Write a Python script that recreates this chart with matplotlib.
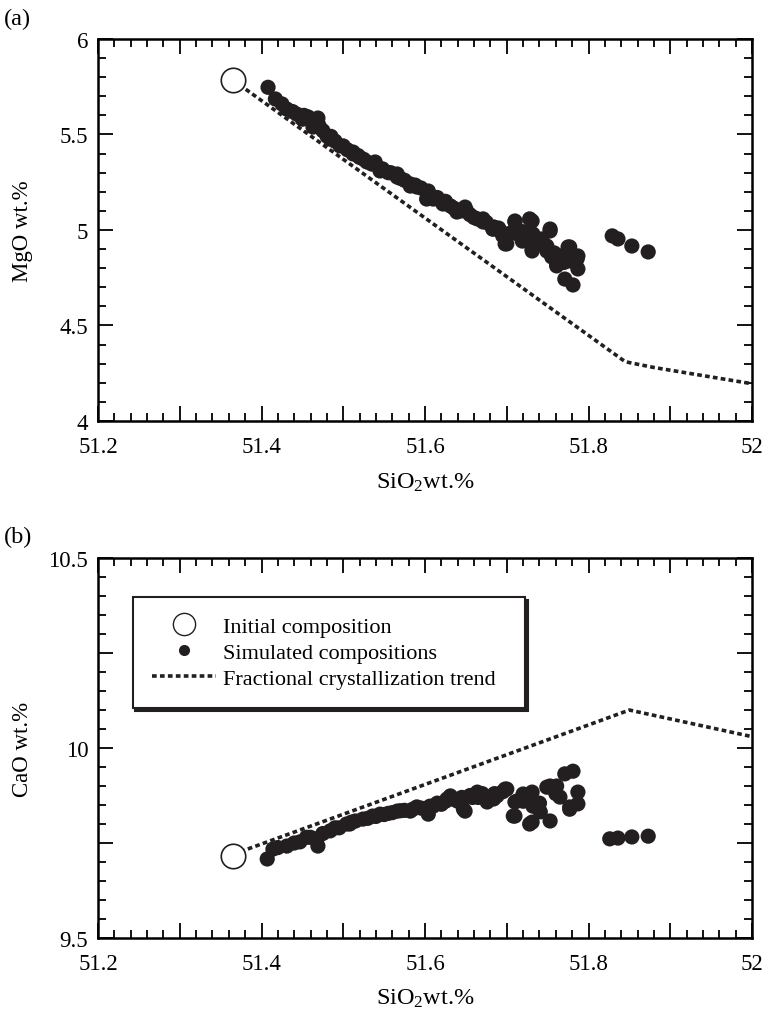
import matplotlib
matplotlib.use("Agg")
import matplotlib.pyplot as plt
from matplotlib.lines import Line2D
from matplotlib.ticker import MultipleLocator, FuncFormatter

plt.rcParams['font.family'] = ['Liberation Serif', 'DejaVu Serif']
plt.rcParams['mathtext.fontset'] = 'custom'
plt.rcParams['mathtext.rm'] = 'Liberation Serif'
plt.rcParams['mathtext.it'] = 'Liberation Serif:italic'

# initial composition
init_sio2 = 51.365
init_mgo = 5.785
init_cao = 9.716

# fractional crystallization trend
fc_sio2 = [51.365, 51.845, 51.88, 52.0]
fc_mgo = [5.785, 4.31, 4.28, 4.195]
fc_sio2_b = [51.365, 51.85, 52.0]
fc_cao = [9.72, 10.10, 10.03]

# simulated compositions (a)
sim_a_sio2 = [51.408, 51.417, 51.431, 51.443, 51.457, 51.469, 51.463, 51.480, 51.496, 51.512,
              51.529, 51.545, 51.566, 51.582, 51.602, 51.610, 51.631, 51.651, 51.671, 51.683,
              51.484, 51.512, 51.539, 51.566, 51.582, 51.604, 51.602, 51.622, 51.639, 51.649,
              51.664, 51.671, 51.683, 51.698, 51.710, 51.728, 51.719, 51.732, 51.753, 51.731,
              51.749, 51.765, 51.777, 51.761, 51.786, 51.671, 51.684, 51.692, 51.700, 51.710,
              51.713, 51.720, 51.719, 51.731, 51.732, 51.731, 51.743, 51.753, 51.749, 51.755,
              51.761, 51.765, 51.775, 51.777, 51.787, 51.787, 51.771, 51.781, 51.829, 51.836,
              51.853, 51.873, 51.425, 51.450, 51.475, 51.490, 51.520, 51.555, 51.590, 51.620,
              51.438, 51.452, 51.470, 51.485, 51.500, 51.505, 51.518, 51.525, 51.535, 51.548,
              51.558, 51.570, 51.575, 51.588, 51.595, 51.615, 51.625, 51.635, 51.645, 51.655,
              51.660, 51.675, 51.690, 51.695, 51.705, 51.740, 51.758, 51.770]
sim_a_mgo = [5.747, 5.686, 5.633, 5.607, 5.592, 5.586, 5.539, 5.492, 5.440, 5.398,
             5.356, 5.309, 5.277, 5.230, 5.199, 5.162, 5.126, 5.099, 5.047, 5.005,
             5.476, 5.408, 5.356, 5.293, 5.241, 5.204, 5.162, 5.136, 5.094, 5.120,
             5.058, 5.042, 5.005, 4.927, 5.047, 5.058, 4.990, 4.969, 5.005, 4.890,
             4.916, 4.864, 4.911, 4.822, 4.848, 5.058, 5.016, 4.995, 4.927, 5.042,
             4.979, 4.990, 4.942, 5.047, 4.979, 4.901, 4.953, 4.995, 4.890, 4.859,
             4.812, 4.859, 4.911, 4.838, 4.864, 4.796, 4.743, 4.712, 4.969, 4.953,
             4.916, 4.885, 5.660, 5.580, 5.520, 5.465, 5.380, 5.300, 5.225, 5.150,
             5.620, 5.600, 5.550, 5.490, 5.440, 5.420, 5.390, 5.370, 5.345, 5.320,
             5.300, 5.270, 5.260, 5.235, 5.220, 5.170, 5.150, 5.115, 5.100, 5.080,
             5.065, 5.040, 5.010, 4.970, 4.985, 4.930, 4.880, 4.830]

# simulated compositions (b)
sim_b_sio2 = [51.407, 51.414, 51.431, 51.447, 51.469, 51.468, 51.484, 51.504, 51.524, 51.545,
              51.566, 51.585, 51.604, 51.610, 51.631, 51.649, 51.664, 51.680, 51.508, 51.536,
              51.582, 51.606, 51.627, 51.647, 51.676, 51.688, 51.700, 51.710, 51.710, 51.720,
              51.731, 51.732, 51.741, 51.753, 51.753, 51.765, 51.777, 51.671, 51.684, 51.698,
              51.708, 51.713, 51.728, 51.731, 51.749, 51.761, 51.771, 51.781, 51.777, 51.787,
              51.787, 51.826, 51.836, 51.853, 51.873, 51.420, 51.455, 51.490, 51.515, 51.555,
              51.575, 51.595, 51.620, 51.640, 51.658, 51.440, 51.460, 51.475, 51.495, 51.510,
              51.530, 51.540, 51.550, 51.560, 51.570, 51.590, 51.600, 51.615, 51.625, 51.635,
              51.645, 51.655, 51.665, 51.670, 51.685, 51.695, 51.720, 51.740, 51.760]
sim_b_cao = [9.708, 9.734, 9.742, 9.753, 9.742, 9.761, 9.782, 9.800, 9.813, 9.826,
             9.834, 9.839, 9.826, 9.847, 9.874, 9.834, 9.884, 9.866, 9.800, 9.821,
             9.834, 9.847, 9.866, 9.839, 9.858, 9.874, 9.892, 9.858, 9.821, 9.879,
             9.805, 9.847, 9.832, 9.808, 9.900, 9.871, 9.839, 9.871, 9.866, 9.892,
             9.821, 9.861, 9.800, 9.884, 9.897, 9.900, 9.932, 9.939, 9.845, 9.884,
             9.853, 9.761, 9.763, 9.766, 9.768, 9.738, 9.765, 9.790, 9.808, 9.828,
             9.836, 9.842, 9.852, 9.860, 9.870, 9.750, 9.765, 9.775, 9.790, 9.805,
             9.815, 9.820, 9.825, 9.830, 9.835, 9.845, 9.840, 9.855, 9.860, 9.865,
             9.870, 9.875, 9.870, 9.880, 9.880, 9.885, 9.860, 9.855, 9.880]

FS = 16.5
fc_style = dict(color='#231f20', lw=2.6, linestyle=(0, (1.3, 0.9)), zorder=2)
dot_style = dict(s=120, color='#231f20', edgecolors='none', zorder=3)
init_style = dict(s=310, facecolors='white', edgecolors='#231f20', linewidths=1.2, zorder=4)


def style_axes(ax, ymaj, ymin, ylo, yhi):
    ax.set_xlim(51.2, 52.0)
    ax.set_ylim(ylo, yhi)
    ax.xaxis.set_major_locator(MultipleLocator(0.1))
    ax.xaxis.set_minor_locator(MultipleLocator(0.02))
    ax.xaxis.set_major_formatter(FuncFormatter(
        lambda v, p: ('%g' % round(v, 1)) if abs(round(v * 5) - v * 5) < 1e-6 else ''))
    ax.yaxis.set_major_locator(MultipleLocator(ymaj))
    ax.yaxis.set_minor_locator(MultipleLocator(ymin))
    ax.yaxis.set_major_formatter(FuncFormatter(
        lambda v, p: ('%g' % v) if abs(round(v * 2) - v * 2) < 1e-6 else ''))
    ax.tick_params(which='both', direction='in', top=True, right=True, labelsize=FS, width=1.3)
    ax.tick_params(which='major', length=11, pad=7)
    ax.tick_params(axis='x', which='major', pad=11)
    ax.tick_params(which='minor', length=6)
    for s in ax.spines.values():
        s.set_linewidth(1.8)


fig = plt.figure(figsize=(7.68, 10.2), dpi=100)

ax1 = fig.add_axes([0.1276, 0.5863, 0.8516, 0.3745])
ax1.plot(fc_sio2, fc_mgo, **fc_style)
ax1.scatter(sim_a_sio2, sim_a_mgo, **dot_style)
ax1.scatter([init_sio2], [init_mgo], **init_style)
style_axes(ax1, 0.5, 0.1, 4, 6)
ax1.set_ylabel('MgO wt.%', fontsize=FS)
ax1.yaxis.set_label_coords(-0.1, 0.5)
ax1.set_xlabel('SiO$_2$wt.%', fontsize=FS + 1, labelpad=10)

ax2 = fig.add_axes([0.1276, 0.0794, 0.8516, 0.3725])
ax2.plot(fc_sio2_b, fc_cao, **fc_style)
ax2.scatter(sim_b_sio2, sim_b_cao, **dot_style)
ax2.scatter([init_sio2], [init_cao], **init_style)
style_axes(ax2, 0.25, 0.05, 9.5, 10.5)
ax2.set_ylabel('CaO wt.%', fontsize=FS)
ax2.yaxis.set_label_coords(-0.1, 0.5)
ax2.set_xlabel('SiO$_2$wt.%', fontsize=FS + 1, labelpad=9)

handles = [
    Line2D([], [], marker='o', ms=16, mfc='white', mec='#231f20', mew=1.0, ls='none'),
    Line2D([], [], marker='o', ms=8, mfc='#231f20', mec='none', ls='none'),
    Line2D([], [], color='#231f20', lw=2.6, linestyle=(0, (1.3, 0.9))),
]
labels = ['Initial composition', 'Simulated compositions', 'Fractional crystallization trend']
leg = ax2.legend(handles, labels, loc='upper left', bbox_to_anchor=(0.053, 0.897, 0.6, 0),
                 mode='expand', fontsize=16, frameon=True, fancybox=False,
                 edgecolor='#231f20', shadow={'color': '#231f20', 'alpha': 1},
                 handlelength=2.9, labelspacing=0.25, borderpad=0.85,
                 handletextpad=0.3, borderaxespad=0)
leg.get_frame().set_linewidth(1.5)

fig.text(0.005, 0.975, '(a)', fontsize=FS + 1)
fig.text(0.005, 0.468, '(b)', fontsize=FS + 1)

fig.savefig('out.png', dpi=100)
